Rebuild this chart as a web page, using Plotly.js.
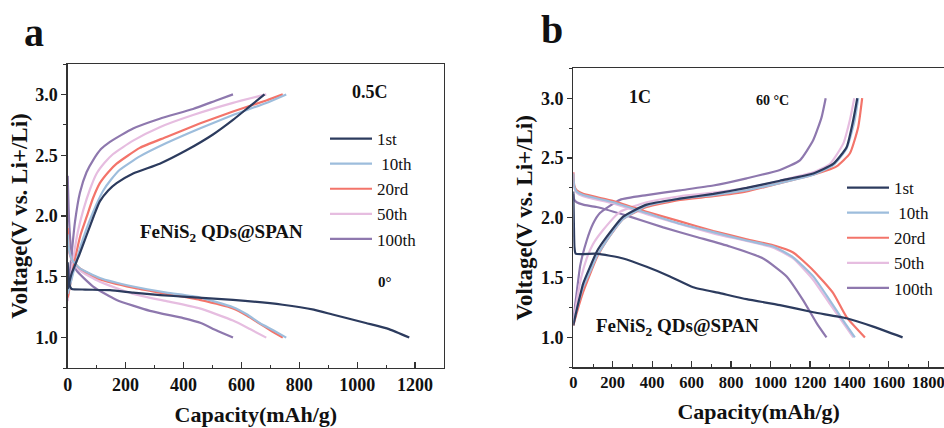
<!DOCTYPE html>
<html>
<head>
<meta charset="utf-8">
<script src="https://cdn.plot.ly/plotly-3.0.1.min.js"></script>
<style>html,body{margin:0;padding:0;background:#fff;}#chart{width:944px;height:428px;}</style>
</head>
<body>
<div id="chart"></div>
<script>
// ---------- DATA ----------
const cycleNames = ["1st", " 10th", "20rd", "50th", "100th"];
const cycleColors = ["#2c3b5e", "#9dbddc", "#f3746a", "#e6bde0", "#8e78ae"];

// Panel a (0.5C, 0°)
const a1_chg_x = [0, 5, 14, 40, 65, 90, 111, 140, 169, 226, 318, 410, 502, 571, 628, 680];
const a1_chg_y = [1.40, 1.45, 1.53, 1.68, 1.84, 2.00, 2.12, 2.21, 2.27, 2.35, 2.43, 2.54, 2.67, 2.79, 2.90, 3.0];
const a1_dis_x = [0, 3, 8, 14, 60, 146, 226, 320, 410, 571, 743, 850, 915, 1030, 1110, 1180];
const a1_dis_y = [1.62, 1.50, 1.42, 1.40, 1.395, 1.39, 1.37, 1.35, 1.335, 1.31, 1.27, 1.23, 1.19, 1.12, 1.07, 1.0];

const a10_chg_x = [0, 10, 31, 54, 77, 100, 123, 150, 180, 249, 341, 456, 571, 686, 755];
const a10_chg_y = [1.36, 1.45, 1.64, 1.82, 1.97, 2.10, 2.21, 2.30, 2.38, 2.49, 2.60, 2.72, 2.83, 2.93, 3.0];
const a10_dis_x = [0, 5, 15, 25, 42, 111, 226, 341, 456, 571, 620, 663, 710, 755];
const a10_dis_y = [1.85, 1.72, 1.64, 1.61, 1.57, 1.49, 1.42, 1.37, 1.33, 1.25, 1.19, 1.12, 1.06, 1.0];

const a20_chg_x = [0, 10, 25, 45, 65, 88, 111, 140, 169, 249, 341, 456, 571, 686, 743];
const a20_chg_y = [1.33, 1.45, 1.64, 1.85, 1.99, 2.15, 2.27, 2.36, 2.43, 2.56, 2.65, 2.76, 2.86, 2.95, 3.0];
const a20_dis_x = [0, 5, 15, 25, 42, 111, 226, 341, 456, 571, 620, 660, 700, 743];
const a20_dis_y = [1.90, 1.72, 1.64, 1.61, 1.57, 1.48, 1.41, 1.36, 1.31, 1.24, 1.18, 1.12, 1.06, 1.0];

const a50_chg_x = [0, 8, 20, 35, 54, 77, 100, 128, 157, 226, 318, 433, 571, 686];
const a50_chg_y = [1.30, 1.45, 1.66, 1.87, 2.05, 2.22, 2.35, 2.44, 2.51, 2.62, 2.73, 2.83, 2.93, 3.0];
const a50_dis_x = [0, 5, 15, 25, 42, 111, 226, 341, 456, 571, 630, 686];
const a50_dis_y = [1.82, 1.70, 1.63, 1.60, 1.55, 1.46, 1.36, 1.30, 1.24, 1.14, 1.07, 1.0];

const a100_chg_x = [0, 6, 14, 25, 42, 65, 88, 115, 146, 226, 318, 433, 513, 571];
const a100_chg_y = [1.35, 1.50, 1.70, 1.95, 2.19, 2.36, 2.46, 2.55, 2.61, 2.72, 2.80, 2.88, 2.95, 3.0];
const a100_dis_x = [0, 5, 12, 20, 31, 88, 169, 284, 399, 460, 513, 571];
const a100_dis_y = [2.33, 1.95, 1.72, 1.62, 1.55, 1.42, 1.31, 1.22, 1.16, 1.12, 1.06, 1.0];

// Panel b (1C, 60 °C)
const b1_chg_x = [0, 20, 50, 85, 120, 169, 253, 372, 541, 710, 879, 1048, 1217, 1318, 1386, 1420, 1440];
const b1_chg_y = [1.10, 1.25, 1.45, 1.59, 1.72, 1.84, 2.01, 2.11, 2.16, 2.20, 2.25, 2.31, 2.37, 2.45, 2.59, 2.82, 3.0];
const b1_dis_x = [0, 3, 6, 12, 118, 253, 372, 490, 608, 744, 879, 1048, 1217, 1386, 1521, 1670];
const b1_dis_y = [2.22, 1.95, 1.75, 1.70, 1.70, 1.66, 1.59, 1.51, 1.42, 1.37, 1.32, 1.27, 1.21, 1.16, 1.09, 1.0];

const b10_chg_x = [0, 20, 50, 85, 120, 169, 253, 372, 541, 710, 879, 1048, 1217, 1318, 1386, 1425, 1445];
const b10_chg_y = [1.12, 1.25, 1.42, 1.55, 1.68, 1.81, 1.99, 2.10, 2.16, 2.19, 2.23, 2.29, 2.36, 2.44, 2.58, 2.80, 3.0];
const b10_dis_x = [0, 5, 17, 50, 203, 372, 541, 710, 879, 1014, 1115, 1217, 1301, 1369, 1428];
const b10_dis_y = [2.37, 2.26, 2.22, 2.19, 2.13, 2.04, 1.95, 1.88, 1.81, 1.76, 1.67, 1.51, 1.31, 1.14, 1.0];

const b20_chg_x = [0, 20, 50, 85, 120, 169, 253, 372, 541, 710, 879, 1048, 1217, 1335, 1403, 1445, 1465];
const b20_chg_y = [1.10, 1.22, 1.38, 1.53, 1.67, 1.81, 1.99, 2.09, 2.15, 2.18, 2.22, 2.29, 2.36, 2.43, 2.54, 2.76, 3.0];
const b20_dis_x = [0, 5, 17, 50, 203, 372, 541, 710, 879, 1014, 1115, 1217, 1318, 1386, 1479];
const b20_dis_y = [2.38, 2.27, 2.23, 2.20, 2.14, 2.05, 1.97, 1.89, 1.82, 1.77, 1.71, 1.56, 1.37, 1.17, 1.0];

const b50_chg_x = [0, 15, 40, 68, 100, 152, 237, 372, 541, 710, 879, 1048, 1217, 1301, 1369, 1403, 1425];
const b50_chg_y = [1.12, 1.28, 1.50, 1.66, 1.78, 1.90, 2.05, 2.13, 2.18, 2.21, 2.25, 2.31, 2.38, 2.45, 2.62, 2.82, 3.0];
const b50_dis_x = [0, 5, 17, 50, 203, 372, 710, 1014, 1115, 1217, 1301, 1420];
const b50_dis_y = [2.38, 2.25, 2.21, 2.18, 2.12, 2.03, 1.87, 1.75, 1.66, 1.48, 1.28, 1.0];

const b100_chg_x = [0, 8, 17, 35, 68, 100, 135, 237, 372, 541, 710, 879, 1048, 1149, 1217, 1259, 1280];
const b100_chg_y = [1.15, 1.25, 1.37, 1.60, 1.81, 1.95, 2.04, 2.15, 2.19, 2.23, 2.27, 2.33, 2.40, 2.48, 2.65, 2.84, 3.0];
const b100_dis_x = [0, 5, 17, 50, 118, 287, 456, 625, 794, 963, 1082, 1166, 1234, 1284];
const b100_dis_y = [2.20, 2.15, 2.13, 2.11, 2.09, 2.01, 1.92, 1.84, 1.76, 1.66, 1.51, 1.31, 1.12, 1.0];

const xTicksA = [0, 200, 400, 600, 800, 1000, 1200];
const xTicksB = [0, 200, 400, 600, 800, 1000, 1200, 1400, 1600, 1800];
const yTicks = [1.0, 1.5, 2.0, 2.5, 3.0];
const yTickText = ["1.0", "1.5", "2.0", "2.5", "3.0"];

// ---------- BUILD ----------
const W = 944, H = 428;
const px = v => v / W, py = v => 1 - v / H;
const serif = 'Liberation Serif, Times New Roman, serif';

const panelA = [[a1_chg_x,a1_chg_y,a1_dis_x,a1_dis_y],[a10_chg_x,a10_chg_y,a10_dis_x,a10_dis_y],
  [a20_chg_x,a20_chg_y,a20_dis_x,a20_dis_y],[a50_chg_x,a50_chg_y,a50_dis_x,a50_dis_y],
  [a100_chg_x,a100_chg_y,a100_dis_x,a100_dis_y]];
const panelB = [[b1_chg_x,b1_chg_y,b1_dis_x,b1_dis_y],[b10_chg_x,b10_chg_y,b10_dis_x,b10_dis_y],
  [b20_chg_x,b20_chg_y,b20_dis_x,b20_dis_y],[b50_chg_x,b50_chg_y,b50_dis_x,b50_dis_y],
  [b100_chg_x,b100_chg_y,b100_dis_x,b100_dis_y]];

const traces = [];
function addPanel(data, xa, ya, legendId, suffix) {
  // draw in reverse so 1st is on top; legendrank keeps legend order 1st..100th
  for (let i = data.length - 1; i >= 0; i--) {
    const d = data[i];
    const common = {type:'scatter', mode:'lines', xaxis:xa, yaxis:ya, line:{color:cycleColors[i], width:2.2, shape:'spline', smoothing:0.5},
      legendgroup: suffix + i, legend: legendId, legendrank: i + 1, name: cycleNames[i], hoverinfo:'x+y+name'};
    traces.push(Object.assign({}, common, {x:d[2], y:d[3], showlegend:false}));
    traces.push(Object.assign({}, common, {x:d[0], y:d[1], showlegend:true}));
  }
}
addPanel(panelA, 'x', 'y', 'legend', 'a');
addPanel(panelB, 'x2', 'y2', 'legend2', 'b');

const axLine = '#333';
const tickFont = {family: serif, size: 18, color: '#111', weight: 'bold'};
const titleFont = {family: serif, size: 22, color: '#111', weight: 'bold'};

function xAxis(domain, range, ticks, anchor, fsize) {
  return {domain, range, anchor, showgrid:false, zeroline:false, showline:true, linecolor:axLine, linewidth:1.3,
    mirror:true, ticks:'inside', ticklen:6, tickwidth:1.2, tickcolor:axLine, tickvals:ticks, ticktext:ticks.map(String),
    tickfont:Object.assign({}, tickFont, {size: fsize}), ticklabeloverflow:'allow',
    minor:{dtick:100, tick0:0, ticks:'inside', ticklen:3, tickwidth:1, tickcolor:axLine, showgrid:false},
    title:{text:'Capacity(mAh/g)', font:titleFont, standoff:12}};
}
function yAxis(domain, anchor, mirror) {
  return {domain, range:[0.75, 3.25], anchor, showgrid:false, zeroline:false, showline:true, linecolor:axLine, linewidth:1.3,
    mirror:mirror, ticks:'outside', ticklen:5, tickwidth:1.2, tickcolor:axLine, tickvals:yTicks, ticktext:yTickText,
    tickfont:tickFont, minor:{dtick:0.25, tick0:0, ticks:'outside', ticklen:3, tickwidth:1, tickcolor:axLine, showgrid:false},
    title:{text:'Voltage(V vs. Li+/Li)', font:{family: serif, size: 23, color:'#111', weight:'bold'}, standoff:1}};
}

const legendCommon = {font:{family: serif, size:17, color:'#111'}, bgcolor:'rgba(0,0,0,0)', borderwidth:0,
  itemwidth:42, tracegroupgap:0, itemclick:false, itemdoubleclick:false, xanchor:'left', yanchor:'top', traceorder:'normal'};

const ann = (text, x, y, size, bold=true) => ({text, xref:'paper', yref:'paper', x:px(x), y:py(y), xanchor:'center', yanchor:'middle',
  showarrow:false, font:{family: serif, size, color:'#111', weight: bold ? 'bold' : 'normal'}});

const layout = {
  width: W, height: H, margin:{l:0, r:0, t:0, b:0}, paper_bgcolor:'#fff', plot_bgcolor:'#fff',
  font:{family: serif},
  xaxis: xAxis([px(67.7), px(444)], [0, 1300], xTicksA, 'y', 18),
  yaxis: yAxis([py(368), py(64)], 'x', true),
  xaxis2: xAxis([px(573.3), 1], [0, 1880], xTicksB, 'y2', 16.5),
  yaxis2: yAxis([py(367.3), py(68.3)], 'x2', false),
  legend: Object.assign({}, legendCommon, {x:px(325), y:py(121)}),
  legend2: Object.assign({}, legendCommon, {x:px(842), y:py(170)}),
  showlegend: true,
  annotations: [
    ann('a', 34, 32, 40), ann('b', 552, 30, 40),
    ann('0.5C', 370, 92, 18), ann('FeNiS<sub>2</sub> QDs@SPAN', 221, 233, 19), ann('0°', 385, 282, 15),
    ann('1C', 640, 97, 18), ann('60 °C', 772, 100, 14), ann('FeNiS<sub>2</sub> QDs@SPAN', 677, 327, 19)
  ]
};

Plotly.newPlot('chart', traces, layout, {staticPlot:true, displayModeBar:false});
</script>
</body>
</html>
